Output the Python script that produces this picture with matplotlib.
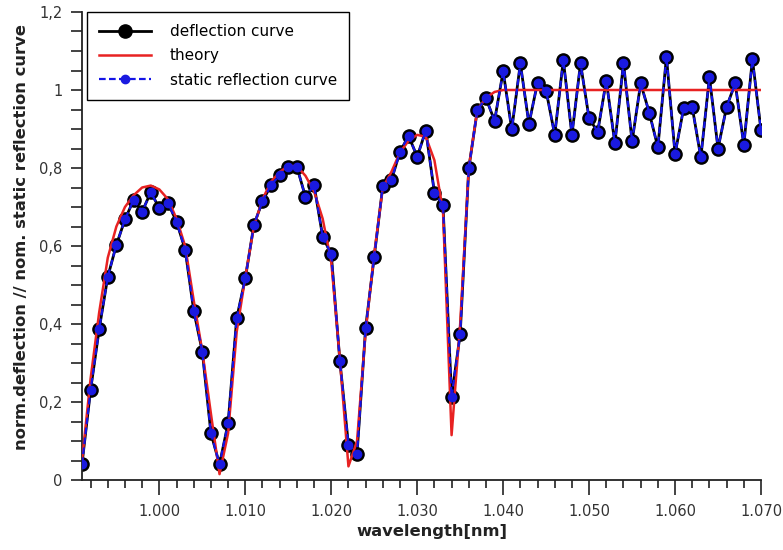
import matplotlib
matplotlib.use("Agg")
import matplotlib.pyplot as plt
from matplotlib.ticker import MultipleLocator, FuncFormatter, FixedLocator

wavelength = [0.991, 0.992, 0.993, 0.994, 0.995, 0.996, 0.997, 0.998, 0.999, 1.000,
              1.001, 1.002, 1.003, 1.004, 1.005, 1.006, 1.007, 1.008, 1.009, 1.010,
              1.011, 1.012, 1.013, 1.014, 1.015, 1.016, 1.017, 1.018, 1.019, 1.020,
              1.021, 1.022, 1.023, 1.024, 1.025, 1.026, 1.027, 1.028, 1.029, 1.030,
              1.031, 1.032, 1.033, 1.034, 1.035, 1.036, 1.037, 1.038, 1.039, 1.040,
              1.041, 1.042, 1.043, 1.044, 1.045, 1.046, 1.047, 1.048, 1.049, 1.050,
              1.051, 1.052, 1.053, 1.054, 1.055, 1.056, 1.057, 1.058, 1.059, 1.060,
              1.061, 1.062, 1.063, 1.064, 1.065, 1.066, 1.067, 1.068, 1.069, 1.070]

deflection = [0.041, 0.231, 0.387, 0.521, 0.603, 0.668, 0.718, 0.688, 0.738, 0.697,
              0.711, 0.662, 0.591, 0.434, 0.329, 0.120, 0.040, 0.146, 0.415, 0.517,
              0.654, 0.715, 0.756, 0.782, 0.803, 0.803, 0.726, 0.756, 0.624, 0.579,
              0.306, 0.090, 0.067, 0.390, 0.573, 0.754, 0.769, 0.842, 0.882, 0.829,
              0.896, 0.737, 0.705, 0.214, 0.374, 0.799, 0.949, 0.979, 0.921, 1.048,
              0.899, 1.068, 0.913, 1.019, 0.998, 0.885, 1.077, 0.885, 1.068, 0.927,
              0.893, 1.024, 0.863, 1.069, 0.868, 1.017, 0.942, 0.853, 1.085, 0.836,
              0.953, 0.956, 0.827, 1.033, 0.850, 0.957, 1.017, 0.859, 1.079, 0.897]

static_reflection = [0.041, 0.231, 0.387, 0.521, 0.603, 0.668, 0.718, 0.688, 0.738, 0.697,
                     0.711, 0.662, 0.591, 0.434, 0.329, 0.120, 0.040, 0.146, 0.415, 0.517,
                     0.654, 0.715, 0.756, 0.782, 0.803, 0.803, 0.726, 0.756, 0.624, 0.579,
                     0.306, 0.090, 0.067, 0.390, 0.573, 0.754, 0.769, 0.842, 0.882, 0.829,
                     0.896, 0.737, 0.705, 0.214, 0.374, 0.799, 0.949, 0.979, 0.921, 1.048,
                     0.899, 1.068, 0.913, 1.019, 0.998, 0.885, 1.077, 0.885, 1.068, 0.927,
                     0.893, 1.024, 0.863, 1.069, 0.868, 1.017, 0.942, 0.853, 1.085, 0.836,
                     0.953, 0.956, 0.827, 1.033, 0.850, 0.957, 1.017, 0.859, 1.079, 0.897]

theory = [0.050, 0.260, 0.430, 0.570, 0.650, 0.700, 0.730, 0.750, 0.755, 0.745,
          0.720, 0.670, 0.600, 0.460, 0.330, 0.170, 0.015, 0.120, 0.380, 0.520,
          0.650, 0.720, 0.765, 0.790, 0.805, 0.805, 0.780, 0.740, 0.670, 0.560,
          0.310, 0.035, 0.100, 0.380, 0.580, 0.750, 0.790, 0.840, 0.870, 0.885,
          0.880, 0.820, 0.690, 0.115, 0.400, 0.800, 0.950, 0.980, 0.995, 1.000,
          1.000, 1.000, 1.000, 1.000, 1.000, 1.000, 1.000, 1.000, 1.000, 1.000,
          1.000, 1.000, 1.000, 1.000, 1.000, 1.000, 1.000, 1.000, 1.000, 1.000,
          1.000, 1.000, 1.000, 1.000, 1.000, 1.000, 1.000, 1.000, 1.000, 1.000]

x_major_ticks = [1.000, 1.010, 1.020, 1.030, 1.040, 1.050, 1.060, 1.070]
y_major_ticks = [0, 0.2, 0.4, 0.6, 0.8, 1.0, 1.2]

plt.rcParams['font.family'] = ['DejaVu Sans']

fig = plt.figure(figsize=(7.83, 5.5), dpi=100)
ax = fig.add_axes([82/783, 70/550, 679/783, 468/550])

ax.plot(wavelength, deflection, color='black', lw=2.0, marker='o', ms=9.5,
        mfc='black', mec='black', label='deflection curve', zorder=2)
ax.plot(wavelength, theory, color='#e82222', lw=1.8, label='theory', zorder=3)
ax.plot(wavelength, static_reflection, color='#1414e6', lw=1.6, ls=(0, (3, 1.5)),
        marker='o', ms=6, mfc='#1a1ae0', mec='#1a1ae0',
        label='static reflection curve', zorder=4)

ax.set_xlim(0.991, 1.070)
ax.set_ylim(0, 1.2)

ax.xaxis.set_major_locator(FixedLocator(x_major_ticks))
ax.xaxis.set_minor_locator(MultipleLocator(0.002))
ax.xaxis.set_major_formatter(FuncFormatter(lambda v, p: f"{v:.3f}"))
ax.yaxis.set_major_locator(FixedLocator(y_major_ticks))
ax.yaxis.set_minor_locator(MultipleLocator(0.05))
ax.yaxis.set_major_formatter(FuncFormatter(lambda v, p: f"{v:g}".replace('.', ',')))

for s in ['top', 'right']:
    ax.spines[s].set_visible(False)
for s in ['left', 'bottom']:
    ax.spines[s].set_linewidth(1.3)
    ax.spines[s].set_color('#222222')

ax.tick_params(axis='both', which='both', direction='out', colors='#222222',
               labelcolor='#333333', labelsize=10.5, width=1.2)
ax.tick_params(axis='x', which='major', length=11, pad=6)
ax.tick_params(axis='x', which='minor', length=6)
ax.tick_params(axis='y', which='major', length=8, pad=6)
ax.tick_params(axis='y', which='minor', length=8)

ax.set_xlabel('wavelength[nm]', fontsize=11.8, fontweight='bold', color='#222222')
ax.set_ylabel('norm.deflection // nom. static reflection curve', fontsize=11.8,
              fontweight='bold', color='#222222')
ax.xaxis.set_label_coords(0.515, -0.093)
ax.yaxis.set_label_coords(-0.078, 0.519)

leg = ax.legend(loc='upper left', bbox_to_anchor=(5/679, 1.0), fontsize=11,
                frameon=True, fancybox=False, edgecolor='black', framealpha=1,
                handlelength=3.4, borderpad=0.8, labelspacing=0.6,
                handletextpad=1.2, borderaxespad=0)
leg.get_frame().set_linewidth(1.0)

fig.savefig('out.png', dpi=100, facecolor='white')
